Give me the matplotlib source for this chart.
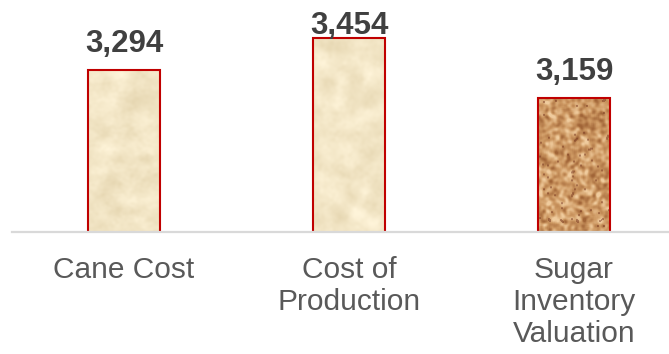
import numpy as np
import matplotlib
matplotlib.use("Agg")
import matplotlib.pyplot as plt
from matplotlib.transforms import blended_transform_factory

# Chart data
categories = ["Cane Cost", "Cost of\nProduction", "Sugar\nInventory\nValuation"]
values = [3294, 3454, 3159]
fills = ["parchment", "parchment", "granite"]

W, H, DPI = 669, 354, 100
FONT = "Liberation Sans"

fig = plt.figure(figsize=(W / DPI, H / DPI), dpi=DPI)
fig.patch.set_facecolor("white")

# Plot area (in pixels): category slots of equal width, baseline near 2/3 of the height
left_px, right_px = 11.5, 686.5
base_px = 231.5
ax = fig.add_axes([left_px / W, 1 - base_px / H, (right_px - left_px) / W, base_px / H])
ymin, ymax = 2500, 3640
ax.set_xlim(-0.5, len(values) - 0.5)
ax.set_ylim(ymin, ymax)
ax.axis("off")

rng = np.random.default_rng(7)


def smooth(a, k):
    """Separable box blur, repeated for a soft result."""
    for _ in range(3):
        kern = np.ones(k) / k
        a = np.apply_along_axis(lambda r: np.convolve(r, kern, mode="same"), 0, a)
        a = np.apply_along_axis(lambda r: np.convolve(r, kern, mode="same"), 1, a)
    return a


def parchment(h, w):
    n1 = smooth(rng.normal(size=(h, w)), 11)
    n2 = smooth(rng.normal(size=(h, w)), 3)
    n = n1 / (n1.std() + 1e-9) * 0.75 + n2 / (n2.std() + 1e-9) * 0.25
    base = np.array([242, 229, 197]) / 255.0
    tint = np.array([-5, -6, -8]) / 255.0
    img = base[None, None, :] + n[..., None] * tint[None, None, :]
    return np.clip(img, 0, 1)


def granite(h, w):
    n1 = smooth(rng.normal(size=(h, w)), 3)
    n1 = n1 / (n1.std() + 1e-9)
    n2 = smooth(rng.normal(size=(h, w)), 7)
    n2 = n2 / (n2.std() + 1e-9)
    n = 0.8 * n1 + 0.2 * n2
    dark = np.array([160, 100, 55]) / 255.0
    mid = np.array([205, 152, 98]) / 255.0
    light = np.array([240, 204, 158]) / 255.0
    t = np.clip((n + 2) / 4, 0, 1)[..., None]
    img = np.where(t < 0.5, dark + (mid - dark) * (t / 0.5), mid + (light - mid) * ((t - 0.5) / 0.5))
    # a few dark specks
    specks = smooth((rng.random((h, w)) < 0.006).astype(float), 2) > 0.05
    img[specks] = img[specks] * 0.55 + np.array([110, 45, 25]) / 255.0 * 0.45
    return np.clip(img, 0, 1)


bar_w = 0.32
x = np.arange(len(values))
bars = ax.bar(x, values, width=bar_w, facecolor="none", edgecolor="#C00000",
              linewidth=1.5, zorder=3)

for rect, kind, v in zip(bars, fills, values):
    x0 = rect.get_x()
    tex = parchment(200, 72) if kind == "parchment" else granite(135, 72)
    im = ax.imshow(tex, extent=[x0, x0 + bar_w, ymin, v], aspect="auto",
                   interpolation="bilinear", zorder=2)
    im.set_clip_path(rect)

# Baseline
ax.axhline(ymin, color="#D9D9D9", linewidth=1.6, zorder=4, clip_on=False)

# Value labels above the bars, kept inside the top of the figure
label_gap = 88
label_ceiling = 3475
for xi, v in zip(x, values):
    ax.text(xi, min(v + label_gap, label_ceiling), f"{v:,}", ha="center", va="baseline",
            fontsize=22.5, fontweight="bold", color="#404040", family=FONT,
            clip_on=False, zorder=5)

# Category labels
trans = blended_transform_factory(ax.transData, fig.transFigure)
for xi, name in zip(x, categories):
    ax.text(xi, 1 - 255.5 / H, name, ha="center", va="top", transform=trans,
            fontsize=21.5, color="#595959", family=FONT, linespacing=1.2,
            multialignment="center", clip_on=False)

fig.savefig("out.png", dpi=DPI, facecolor="white")
